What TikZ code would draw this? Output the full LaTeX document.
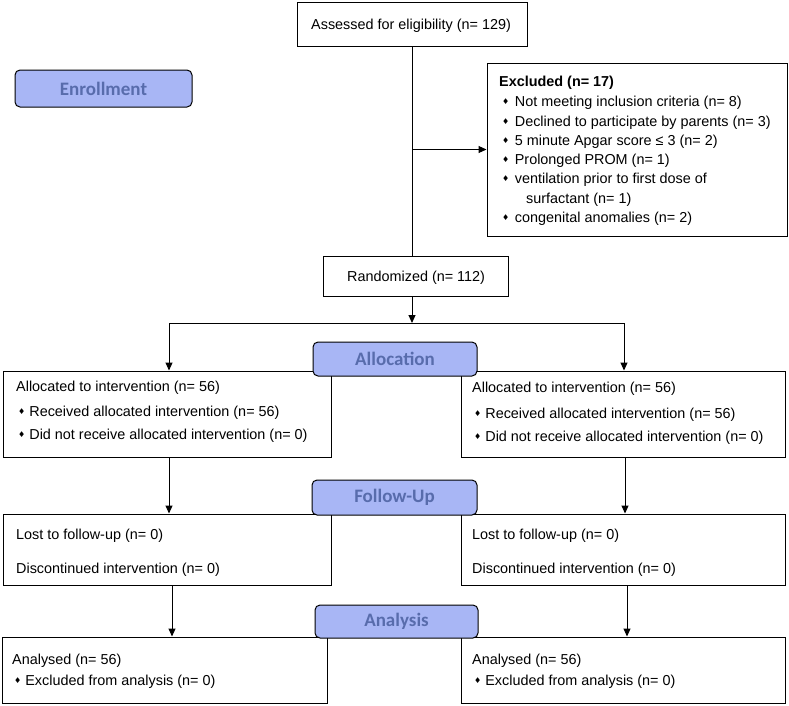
\documentclass[tikz,border=0pt]{standalone}
\usepackage{fontspec}
\setmainfont{Liberation Sans}
\newfontfamily\labfont{Carlito}
\newfontfamily\symf{DejaVu Sans}
\usetikzlibrary{arrows.meta}
\definecolor{labfill}{RGB}{168,182,245}
\definecolor{labtext}{RGB}{88,108,172}
\tikzset{
 box/.style={draw,line width=1pt,inner sep=0},
 lab/.style={draw,line width=1pt,rounded corners=5pt,fill=labfill,text=labtext,inner sep=0,font=\labfont\bfseries\fontsize{19}{22}\selectfont},
 txt/.style={anchor=base west,inner sep=0,font=\fontsize{14.4}{17}\selectfont},
 arr/.style={line width=1pt,-{Triangle[length=8pt,width=7pt]}},
 ln/.style={line width=1pt},
}
\newcommand\bul{{\symf\fontsize{8}{8}\selectfont\raisebox{1.5pt}{♦}}}
\begin{document}
\begin{tikzpicture}[x=1pt,y=-1pt]
\useasboundingbox (0,0) rectangle (789,705);
% boxes
\node[box,minimum width=230pt,minimum height=44pt] (assess) at (412,24) {};
\node[box,minimum width=300pt,minimum height=173pt] (excl) at (637,149.5) {};
\node[box,minimum width=185pt,minimum height=40pt] (rand) at (415.5,276) {};
\node[box,minimum width=328pt,minimum height=86pt] (alL) at (167,414) {};
\node[box,minimum width=324pt,minimum height=86pt] (alR) at (623,414) {};
\node[box,minimum width=328pt,minimum height=71pt] (fuL) at (167,549.5) {};
\node[box,minimum width=324pt,minimum height=71pt] (fuR) at (623,549.5) {};
\node[box,minimum width=325pt,minimum height=66pt] (anL) at (164.5,670) {};
\node[box,minimum width=324pt,minimum height=66pt] (anR) at (623,670) {};
% labels
\node[lab,minimum width=177pt,minimum height=37pt] (enroll) at (103.5,88.5) {Enrollment};
\node[lab,minimum width=164pt,minimum height=34pt] (alloc) at (395,359) {Allocation};
\node[lab,minimum width=165pt,minimum height=35pt] (follow) at (394.5,497.5) {Follow-Up};
\node[lab,minimum width=163pt,minimum height=33pt] (anal) at (396.5,621.5) {Analysis};
% texts
\node[txt] (t1) at (311,29) {Assessed for eligibility (n= 129)};
\node[txt] (t2) at (347,281) {Randomized (n= 112)};
\node[txt,font=\bfseries\fontsize{14.4}{17}\selectfont] (e0) at (499,86) {Excluded (n= 17)};
\node[txt] (e1) at (502,106) {\bul\hspace{5.5pt}Not meeting inclusion criteria (n= 8)};
\node[txt] (e2) at (502,126) {\bul\hspace{5.5pt}Declined to participate by parents (n= 3)};
\node[txt] (e3) at (502,145) {\bul\hspace{5.5pt}5 minute Apgar score ≤ 3 (n= 2)};
\node[txt] (e4) at (502,164) {\bul\hspace{5.5pt}Prolonged PROM (n= 1)};
\node[txt] (e5) at (502,183) {\bul\hspace{5.5pt}ventilation prior to first dose of};
\node[txt] (e6) at (526,203) {surfactant (n= 1)};
\node[txt] (e7) at (502,222) {\bul\hspace{5.5pt}congenital anomalies (n= 2)};
% allocation texts
\node[txt] (a1) at (16,391) {Allocated to intervention (n= 56)};
\node[txt] (a2) at (18,416) {\bul\hspace{4pt}Received allocated intervention (n= 56)};
\node[txt] (a3) at (18,439) {\bul\hspace{4pt}Did not receive allocated intervention (n= 0)};
\node[txt] (b1) at (472,392) {Allocated to intervention (n= 56)};
\node[txt] (b2) at (474,418) {\bul\hspace{4pt}Received allocated intervention (n= 56)};
\node[txt] (b3) at (474,441) {\bul\hspace{4pt}Did not receive allocated intervention (n= 0)};
% follow-up texts
\node[txt] (f1) at (16,539) {Lost to follow-up (n= 0)};
\node[txt] (f2) at (16,573) {Discontinued intervention (n= 0)};
\node[txt] (g1) at (472,539) {Lost to follow-up (n= 0)};
\node[txt] (g2) at (472,573) {Discontinued intervention (n= 0)};
% analysis texts
\node[txt] (h1) at (12,664) {Analysed (n= 56)};
\node[txt] (h2) at (14,685) {\bul\hspace{4pt}Excluded from analysis (n= 0)};
\node[txt] (k1) at (472,664) {Analysed (n= 56)};
\node[txt] (k2) at (474,685) {\bul\hspace{4pt}Excluded from analysis (n= 0)};
% connectors
\coordinate (split) at (412,323);
\coordinate (sl) at (169,323);
\coordinate (sr) at (624,323);
\coordinate (c1) at (169,457);
\coordinate (c2) at (625,457);
\coordinate (c3) at (172,585);
\coordinate (c4) at (627,585);
\draw[ln] (assess.south) -- (assess.south |- rand.north);
\draw[arr] (assess.south |- excl.west) -- (excl.west);
\draw[arr] (assess.south |- rand.south) -- (split);
\draw[ln] (sl) -- (sr);
\draw[arr] (sl) -- (sl |- alL.north);
\draw[arr] (sr) -- (sr |- alR.north);
\draw[arr] (c1) -- (c1 |- fuL.north);
\draw[arr] (c2) -- (c2 |- fuR.north);
\draw[arr] (c3) -- (c3 |- anL.north);
\draw[arr] (c4) -- (c4 |- anR.north);
\end{tikzpicture}
\end{document}
